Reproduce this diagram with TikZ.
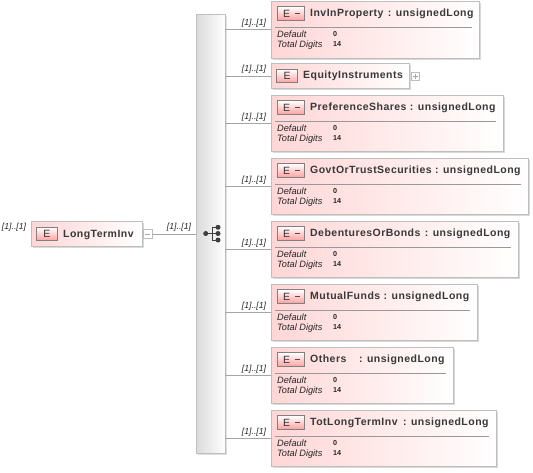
\documentclass[tikz,border=0pt]{standalone}
\usepackage{fontspec}
\setmainfont{Liberation Sans}
\usetikzlibrary{positioning}
\definecolor{edge}{RGB}{190,190,190}
\definecolor{pinkb}{RGB}{255,214,214}
\definecolor{linec}{RGB}{165,165,165}
\definecolor{badge}{RGB}{255,160,160}
\newfontfamily\titlefont[LetterSpace=4.5]{Liberation Sans}
\tikzset{x=1pt,y=-1pt,
 elbox/.style={draw=edge,line width=1pt,left color=pinkb,right color=white,minimum height=#1,inner sep=0pt,anchor=north west,rectangle},
 conn/.style={draw=linec,line width=.7pt},
 occ/.style={font=\itshape\fontsize{8.7}{8}\selectfont,inner sep=0pt,text=black!85},
 title/.style={font=\titlefont\bfseries\fontsize{10.5}{10}\selectfont,inner sep=0pt,anchor=west,text=black!78},
 fac/.style={font=\itshape\fontsize{9.2}{8}\selectfont,inner sep=0pt,anchor=west,text=black!85},
 facv/.style={font=\bfseries\fontsize{7.2}{8}\selectfont,inner sep=0pt,anchor=west,text=black!85},
 ebadge/.style={draw=black!50,line width=.6pt,top color=white,bottom color=badge,minimum width=#1,minimum height=13.5,inner sep=0pt,rectangle,font=\fontsize{10.5}{10}\selectfont,text=black!80},
 toggle/.style={draw=edge,line width=.6pt,fill=white,minimum size=8,inner sep=0pt,rectangle},
 dotn/.style={circle,fill=black!75,inner sep=0pt,minimum size=5}
}
\newcommand{\simpleel}[5]{% name, x-right, y-top, y-bottom, title
 \fill[black!15] (273,#3+2) rectangle (#2+2,#4+2);
 \node[elbox={#4-#3},minimum width=#2-271] (#1) at (271,#3) {};
 \node[ebadge=27] (#1b) at (290.5,#3+12.5) {\hspace*{-8pt}E};
 \fill[black!70] (294.5,#3+11.5) rectangle (300,#3+13.1);
 \node[title] (#1t) at (310,#3+13) {#5};
 \draw[line width=.6pt,draw=black!40] (275,#3+26) -- (#2-7,#3+26);
 \node[fac] (#1d) at (277,#3+33.5) {Default};
 \node[fac] (#1g) at (277,#3+44) {Total Digits};
 \node[facv] (#1v) at (333,#3+33) {0};
 \node[facv] (#1w) at (333,#3+43) {14};
}
\begin{document}
\begin{tikzpicture}
\useasboundingbox (0,0) rectangle (533,472);
% compositor
\fill[black!12] (198,16) rectangle (227,455);
\node[rectangle,draw=edge,line width=1pt,left color=black!14,right color=white,minimum width=29,minimum height=439,inner sep=0pt,anchor=north west] (seq) at (196,14) {};
% root
\fill[black!15] (33,223) rectangle (144,248);
\node[elbox=25,minimum width=111] (root) at (31,221) {};
\node[ebadge=21] (rootb) at (47,234) {E};
\node[title] (roott) at (63,234.5) {LongTermInv};
\node[toggle,minimum size=9] (tog) at (147.5,234) {};
\draw[draw=black!35,line width=.5pt] (145,234) -- (150,234);
\node[occ] (rootocc) at (14,227.5) {[1]..[1]};
\node[occ] (seqocc) at (179,227.5) {[1]..[1]};
\draw[conn] (tog.east) -- (seq.west |- tog.east);
% sequence icon
\node[dotn] (d0) at (205.7,233.5) {};
\node[dotn] (d1) at (218,227.3) {};
\node[dotn] (d2) at (218,233.5) {};
\node[dotn] (d3) at (218,240) {};
\draw[black!75,line width=.8pt] (d0.center) -- (d2.center) (d1.center) -- (212,227.3) -- (212,240) -- (d3.center);
% elements
\simpleel{a}{479}{1}{58}{InvInProperty\ \hspace{1pt}: unsignedLong}
\fill[black!15] (273,65) rectangle (411,90);
\node[elbox=25,minimum width=138] (b) at (271,63) {};
\node[ebadge=21] (bb) at (287,76) {E};
\node[title] (bt) at (303,75.5) {EquityInstruments};
\node[toggle] (btog) at (415,76) {};
\draw[draw=black!35,line width=.5pt] (412.5,76) -- (417.5,76) (415,73.5) -- (415,78.5);
\simpleel{c}{503}{95}{151}{PreferenceShares\ : unsignedLong}
\simpleel{d}{528}{158}{214}{GovtOrTrustSecurities\ : unsignedLong}
\simpleel{e}{518}{221}{277}{DebenturesOrBonds\ \hspace{1pt}: unsignedLong}
\simpleel{f}{477}{284}{340}{MutualFunds\ : unsignedLong}
\simpleel{g}{453}{347}{403}{Others\ \ \ \hspace{2.5pt}: unsignedLong}
\simpleel{h}{496}{410}{466}{TotLongTermInv\ \hspace{2pt}: unsignedLong}
% connectors
\foreach \n/\yy/\oo in {a/29/6,b/76/7,c/123/6,d/186/6,e/249/6,f/312/6,g/375/6,h/438/6}{
 \coordinate (s\n) at (225,\yy);
 \coordinate (e\n) at (271,\yy);
 \draw[conn] (s\n) -- (e\n);
 \node[occ] (o\n) at (254,\yy-\oo) {[1]..[1]};
}
\end{tikzpicture}
\end{document}
